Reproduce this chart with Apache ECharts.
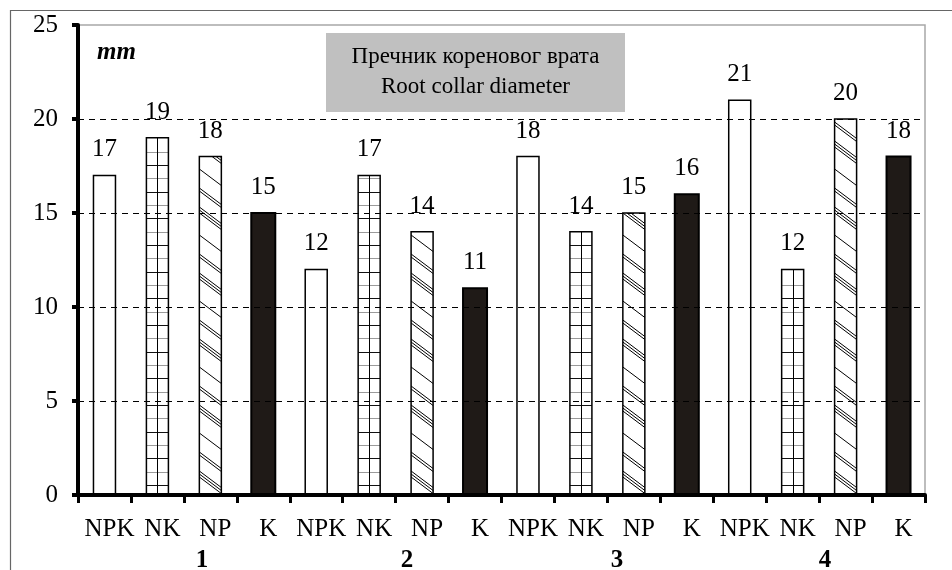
<!DOCTYPE html>
<html><head><meta charset="utf-8">
<script src="https://cdn.jsdelivr.net/npm/echarts@6/dist/echarts.min.js"></script>
<style>html,body{margin:0;padding:0;background:#fff}#c{width:952px;height:570px}</style>
</head><body><div id="c"></div>
<script>
// ---- data ----
const categories = ['NPK','NK','NP','K','NPK','NK','NP','K','NPK','NK','NP','K','NPK','NK','NP','K'];
const values = [17,19,18,15,12,17,14,11,18,14,15,16,21,12,20,18];
const groups = ['1','2','3','4'];
const yMin = 0, yMax = 25, yStep = 5;
const unitLabel = 'mm';
const titleLines = ['Пречник кореновог врата','Root collar diameter'];

// ---- layout / style constants ----
const FONT = '"Liberation Serif", "Times New Roman", serif';
const groupLabelX = [202, 407, 617, 825];

function renderItem(params, api) {
  const i = api.value(0), v = api.value(1);
  const top = api.coord([i, v]);
  const base = api.coord([i, 0]);
  const kind = categories[i];
  const bw = kind === 'K' ? 24 : 22;
  const cx = top[0];
  const x0 = cx - bw / 2, x1 = cx + bw / 2, y0 = top[1], y1 = base[1];
  const ch = [];
  ch.push({type: 'rect', shape: {x: x0, y: y0, width: bw, height: y1 - y0},
    style: {fill: kind === 'K' ? '#1f1a17' : '#fff', stroke: 'none'}});
  if (kind === 'NK') {
    let k = 0;
    for (let y = y1 - 10; y > y0 + 3; y -= 13.33, k++) {
      const yy = Math.round(y) + 0.5;
      ch.push({type: 'line', shape: {x1: x0, y1: yy, x2: x1, y2: yy},
        style: {stroke: k % 2 ? '#9a9a9a' : '#111', lineWidth: 1}});
    }
    ch.push({type: 'line', shape: {x1: Math.round(cx) + 0.5, y1: y0, x2: Math.round(cx) + 0.5, y2: y1},
      style: {stroke: '#000', lineWidth: 1}});
  }
  if (kind === 'NP') {
    const s = 0.75;
    let k = 0;
    for (let c = y1 + 4; c > y0 - s * bw; c -= 22, k++) {
      const offs = (k % 3 === 1) ? [0, 3, 6] : (k % 3 === 2 ? [0, 3] : [0]);
      for (const d of offs) {
        const cc = c - d;
        let ax = x0, ay = cc, bx = x1, by = cc + s * bw;
        if (ay < y0) { ax = x0 + (y0 - cc) / s; ay = y0; }
        if (by > y1) { bx = x0 + (y1 - cc) / s; by = y1; }
        if (ax >= bx || ay >= by) continue;
        ch.push({type: 'line', shape: {x1: ax, y1: ay, x2: bx, y2: by},
          style: {stroke: '#000', lineWidth: 1}});
      }
    }
  }
  ch.push({type: 'rect', shape: {x: x0, y: y0, width: bw, height: y1 - y0},
    style: {fill: 'none', stroke: '#000', lineWidth: kind === 'K' ? 2 : 1.5}});
  ch.push({type: 'text', style: {text: String(v), x: cx, y: y0 - 13, align: 'center',
    verticalAlign: 'bottom', font: '25px ' + FONT, fill: '#000'}});
  return {type: 'group', children: ch};
}

const chart = echarts.init(document.getElementById('c'), null, {renderer: 'canvas'});
chart.setOption({
  animation: false,
  backgroundColor: '#fff',
  grid: {left: 78, right: 27, top: 25, bottom: 75, show: true, borderColor: '#a8a8a8', borderWidth: 1.5},
  xAxis: {
    type: 'category',
    data: categories.map((c, i) => 'c' + i),
    z: 10,
    axisLine: {lineStyle: {color: '#000', width: 4}},
    axisTick: {show: true, interval: 0, length: 8, lineStyle: {color: '#000', width: 3}},
    axisLabel: {interval: 0, formatter: (val, idx) => categories[idx], fontFamily: FONT, fontSize: 25, color: '#000',
      margin: 22, padding: [0, 0, 0, 10]},
    splitLine: {show: false}
  },
  yAxis: {
    type: 'value', min: yMin, max: yMax, interval: yStep,
    z: 10,
    axisLine: {show: true, lineStyle: {color: '#000', width: 4}},
    axisTick: {show: true, length: 6, lineStyle: {color: '#000', width: 4}},
    axisLabel: {fontFamily: FONT, fontSize: 25, color: '#000', margin: 20},
    splitLine: {show: true, lineStyle: {color: ['transparent', '#000', '#000', '#000', '#000', 'transparent'], type: [6, 5], width: 1}}
  },
  series: [{
    type: 'custom',
    renderItem: renderItem,
    data: values.map((v, i) => [i, v]),
    encode: {x: 0, y: 1},
    z: 5
  }],
  graphic: [
    {type: 'rect', shape: {x: 10.5, y: 10.5, width: 2000, height: 2000}, style: {fill: 'none', stroke: '#666', lineWidth: 1.2}, z: -1, silent: true},
    {type: 'rect', shape: {x: 326, y: 33, width: 299, height: 79}, style: {fill: '#c0c0c0'}, z: 10},
    {type: 'text', x: 475.5, y: 57, style: {text: titleLines[0], font: '23px ' + FONT, fill: '#000', align: 'center', verticalAlign: 'middle'}, z: 11},
    {type: 'text', x: 475.5, y: 87, style: {text: titleLines[1], font: '23px ' + FONT, fill: '#000', align: 'center', verticalAlign: 'middle'}, z: 11},
    {type: 'text', x: 97, y: 53, style: {text: unitLabel, font: 'italic bold 25px ' + FONT, fill: '#000', align: 'left', verticalAlign: 'middle'}, z: 11}
  ].concat(groups.map((g, k) => ({
    type: 'text', x: groupLabelX[k], y: 561,
    style: {text: g, font: 'bold 25px ' + FONT, fill: '#000', align: 'center', verticalAlign: 'middle'}, z: 11
  })))
});
</script>
</body></html>
